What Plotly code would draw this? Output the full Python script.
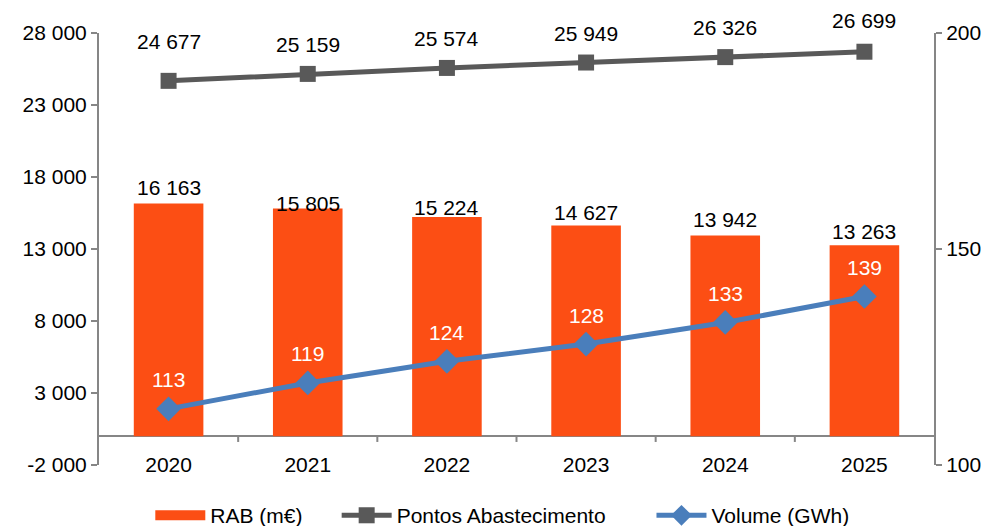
import plotly.graph_objects as go

# Data
anos = ['2020', '2021', '2022', '2023', '2024', '2025']
rab = [16163, 15805, 15224, 14627, 13942, 13263]
pontos = [24677, 25159, 25574, 25949, 26326, 26699]
volume = [113, 119, 124, 128, 133, 139]

y_ticks = [-2000, 3000, 8000, 13000, 18000, 23000, 28000]
y2_ticks = [100, 150, 200]


def fmt(n):
    # thousands with a space, plain hyphen for negatives
    return f'{n:,}'.replace(',', ' ')


font_main = 'Liberation Sans, Arial, sans-serif'
axis_grey = '#868686'
bar_color = '#FC4E14'
fs = 21
nb = '\u00a0'  # extra room between legend entries

fig = go.Figure()

# Bars - RAB (legend entry drawn by a thick-line proxy below)
fig.add_trace(go.Bar(
    x=anos, y=rab, name='RAB (m€)', showlegend=False,
    marker=dict(color=bar_color, line=dict(width=0)),
    width=0.5
))
fig.add_trace(go.Scatter(
    x=[None], y=[None], name='RAB (m€)' + nb * 5, mode='lines',
    line=dict(color=bar_color, width=14), hoverinfo='skip'
))

# Line - Pontos Abastecimento
fig.add_trace(go.Scatter(
    x=anos, y=pontos, name='Pontos Abastecimento' + nb * 7,
    mode='lines+markers',
    line=dict(color='#595959', width=5),
    marker=dict(symbol='square', size=16, color='#595959')
))

# Line - Volume (right axis)
fig.add_trace(go.Scatter(
    x=anos, y=volume, name='Volume (GWh)', yaxis='y2',
    mode='lines+markers',
    line=dict(color='#4A7EBB', width=5),
    marker=dict(symbol='diamond', size=19, color='#4A7EBB')
))

# Data labels (x given as category index); shifts follow the original placement
bar_shift = [16, 5, 9, 13, 16, 14]
pontos_shift = [39, 29, 29, 29, 30, 31]
for i, v in enumerate(rab):
    fig.add_annotation(x=i, y=v, xref='x', yref='y', text=fmt(v),
                       showarrow=False, yshift=bar_shift[i],
                       font=dict(size=fs, color='black', family=font_main))
for i, p in enumerate(pontos):
    fig.add_annotation(x=i, y=p, xref='x', yref='y', text=fmt(p),
                       showarrow=False, yshift=pontos_shift[i],
                       font=dict(size=fs, color='black', family=font_main))
for i, v in enumerate(volume):
    fig.add_annotation(x=i, y=v, xref='x', yref='y2', text=str(v),
                       showarrow=False, yshift=29,
                       font=dict(size=fs, color='white', family=font_main))

# Small ticks on the category axis (at y = 0) between categories
for i in range(1, len(anos)):
    fig.add_shape(type='line', xref='x', yref='y',
                  x0=i - 0.5, x1=i - 0.5, y0=0, y1=-400,
                  line=dict(color=axis_grey, width=2))

fig.update_layout(
    width=986, height=518,
    margin=dict(l=91, r=60, t=25, b=61),
    plot_bgcolor='white', paper_bgcolor='white',
    font=dict(family=font_main, size=fs, color='black'),
    showlegend=True,
    legend=dict(orientation='h', x=0.483, xanchor='center',
                yref='container', y=0.02, yanchor='middle',
                font=dict(size=fs), itemwidth=50, traceorder='normal'),
    xaxis=dict(
        type='category', range=[-0.5, 5.5],
        showline=False, showgrid=False, ticks='',
        ticklabelstandoff=-15, tickfont=dict(size=fs)
    ),
    yaxis=dict(
        range=[-2000, 28000], tickvals=y_ticks, ticktext=[fmt(t) for t in y_ticks],
        showgrid=False, showline=True, linecolor=axis_grey, linewidth=2,
        ticks='outside', tickcolor=axis_grey, tickwidth=2, ticklen=6,
        zeroline=True, zerolinecolor=axis_grey, zerolinewidth=2,
        tickfont=dict(size=fs)
    ),
    yaxis2=dict(
        range=[100, 200], tickvals=y2_ticks, ticktext=[str(t) for t in y2_ticks],
        overlaying='y', side='right',
        showgrid=False, showline=True, linecolor=axis_grey, linewidth=2,
        ticks='outside', tickcolor=axis_grey, tickwidth=2, ticklen=6,
        zeroline=False, tickfont=dict(size=fs)
    )
)

fig.write_html('out.html')
